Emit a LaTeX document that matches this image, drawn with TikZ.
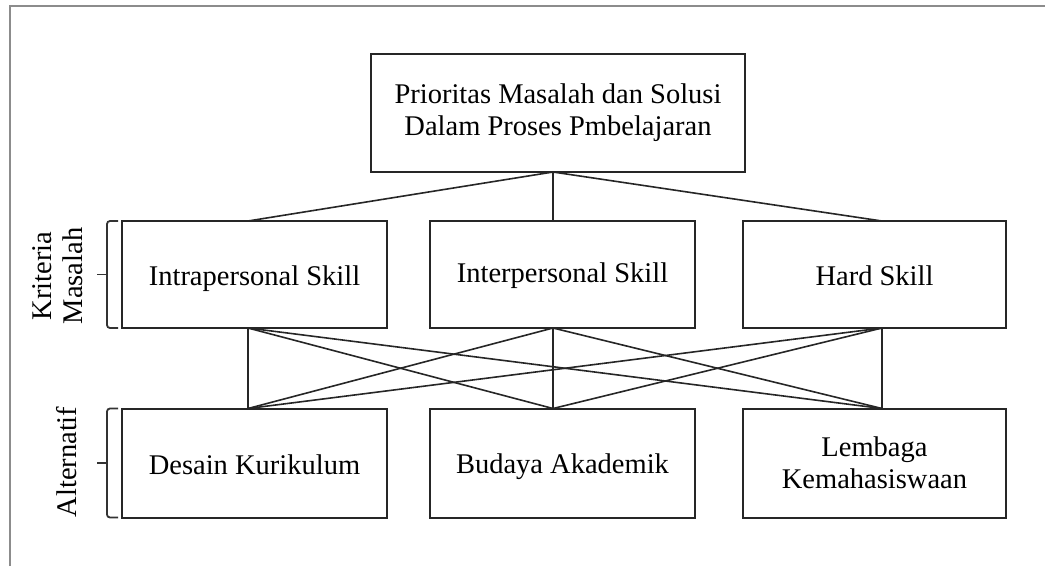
\documentclass[tikz,border=0pt]{standalone}
\usepackage{fontspec}
\setmainfont{Liberation Serif}
\usetikzlibrary{calc}
\newcommand{\lowstrut}{\rule[-4.6pt]{0pt}{32pt}}
\newcommand{\midstrut}{\rule[-7.6pt]{0pt}{32pt}}
\begin{document}
\begin{tikzpicture}[x=1pt,y=-1pt,
  box/.style={draw=black!85, line width=2pt, inner sep=0pt, outer sep=0pt, align=center, font=\fontsize{28.5}{32}\selectfont},
  link/.style={draw=black!85, line width=1.6pt},
  frame/.style={draw=black!45, line width=1.6pt},
  brk/.style={draw=black!80, line width=1.8pt, rounded corners=3pt},
  lbl/.style={rotate=90, align=center, font=\fontsize{28.5}{31}\selectfont, inner sep=0pt}]
\useasboundingbox (0,0) rectangle (1045,566);
\draw[frame] (10,566) -- (10,6) -- (1045,6);

\node[box, minimum width=374pt, minimum height=118pt] (top) at (558,113) {Prioritas Masalah dan Solusi\\Dalam Proses Pmbelajaran};

\node[box, minimum width=265pt, minimum height=107pt] (m1) at (254.5,274.5) {\lowstrut Intrapersonal Skill};
\node[box, minimum width=265pt, minimum height=107pt] (m2) at (562.5,274.5) {\midstrut Interpersonal Skill};
\node[box, minimum width=263pt, minimum height=107pt] (m3) at (874.5,274.5) {\lowstrut Hard Skill};

\node[box, minimum width=265pt, minimum height=109pt] (b1) at (254.5,463) {\lowstrut Desain Kurikulum};
\node[box, minimum width=265pt, minimum height=109pt] (b2) at (562.5,463) {\lowstrut Budaya Akademik};
\node[box, minimum width=263pt, minimum height=109pt] (b3) at (874.5,463) {Lembaga\\Kemahasiswaan};

\coordinate (tb) at ($(top.south west)+(182,0)$);
\coordinate (m1t) at ($(m1.north west)+(126,0)$);
\coordinate (m2t) at ($(m2.north west)+(123,0)$);
\coordinate (m3t) at ($(m3.north west)+(139,0)$);
\coordinate (m1b) at ($(m1.south west)+(126,0)$);
\coordinate (m2b) at ($(m2.south west)+(123,0)$);
\coordinate (m3b) at ($(m3.south west)+(139,0)$);
\coordinate (b1t) at ($(b1.north west)+(126,0)$);
\coordinate (b2t) at ($(b2.north west)+(123,0)$);
\coordinate (b3t) at ($(b3.north west)+(139,0)$);

\draw[link] (tb) -- (m1t);
\draw[link] (tb) -- (m2t);
\draw[link] (tb) -- (m3t);
\foreach \u in {m1b,m2b,m3b}{
  \foreach \v in {b1t,b2t,b3t}{
    \draw[link] (\u) -- (\v);
  }
}

\coordinate (k1) at ($(m1.north west)+(-4,0)$);
\coordinate (k2) at ($(m1.south west)+(-4,0)$);
\draw[brk] (k1) -- ++(-11,0) -- ($(k2)+(-11,0)$) -- (k2);
\draw[brk] ($(m1.west)+(-15,0)$) -- ++(-10,0);
\coordinate (a1) at ($(b1.north west)+(-4,0)$);
\coordinate (a2) at ($(b1.south west)+(-4,0)$);
\draw[brk] (a1) -- ++(-11,0) -- ($(a2)+(-11,0)$) -- (a2);
\draw[brk] ($(b1.west)+(-15,0)$) -- ++(-10,0);

\node[lbl] (krit) at (58,276) {Kriteria\\Masalah};
\node[lbl] (alt) at (67,462) {Alternatif};
\end{tikzpicture}
\end{document}
